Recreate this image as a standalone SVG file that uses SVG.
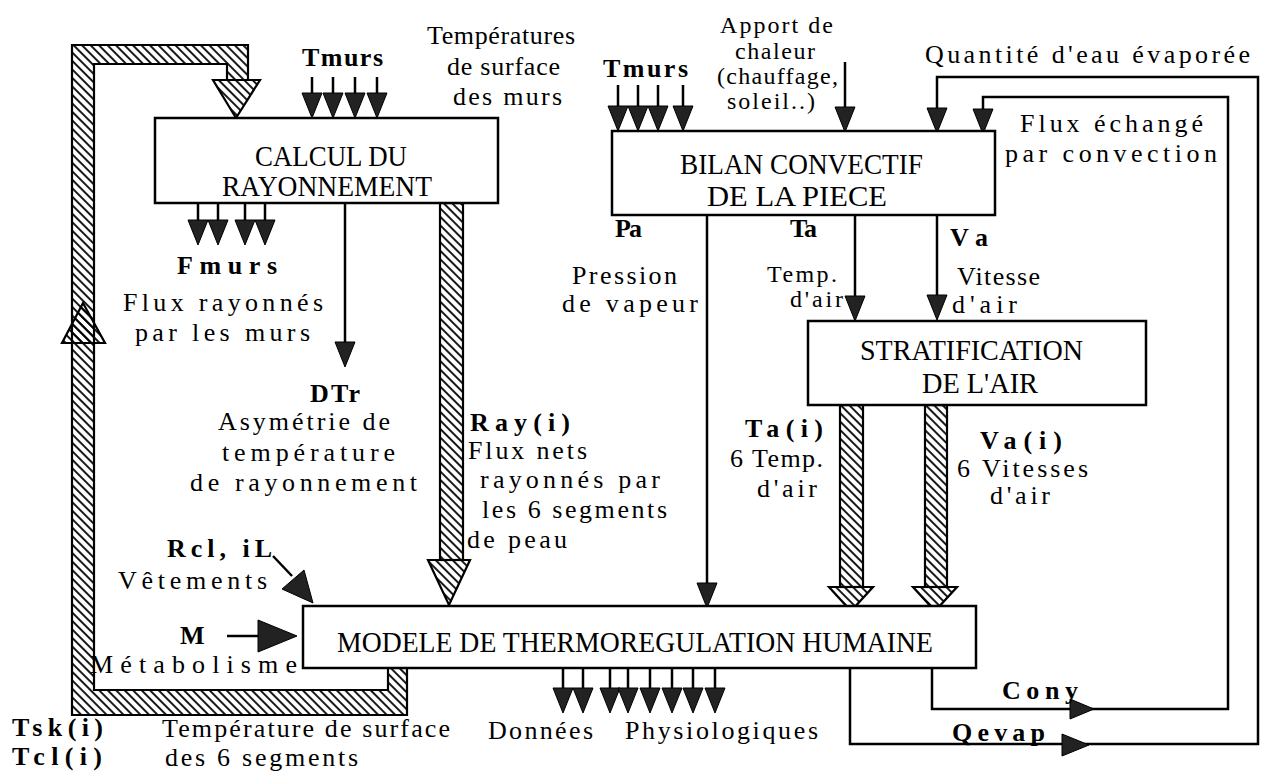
<svg xmlns="http://www.w3.org/2000/svg" width="1266" height="780" viewBox="0 0 1266 780">
<defs>
<pattern id="hatch" width="6" height="6" patternUnits="userSpaceOnUse" patternTransform="rotate(-45)">
<line x1="2" y1="0" x2="2" y2="6" stroke="#000" stroke-width="1.8"/>
</pattern>
<path id="ah" d="M-10,0 L10,0 L0,25 Z"/>
</defs>
<style>
.box{fill:#fff;stroke:#000;stroke-width:2.5}
.ln{fill:none;stroke:#000;stroke-width:2.5}
.hat{fill:url(#hatch);stroke:#000;stroke-width:2.2}
.ah{fill:#222;stroke:#000;stroke-width:1}
text{font-family:"Liberation Serif","Times New Roman",serif;font-size:26px;fill:#000}
.b{font-weight:bold;font-size:26px}
.bx{font-size:29px}
.sm{font-size:24px}
</style>
<rect width="1266" height="780" fill="#fff"/>

<g id="connectors">
  <!-- left hatched feedback loop -->
  <path class="hat" d="M388,666 H407 V715 H72 V45 H248 V80 H227 V64 H94 V690 H388 Z"/>
  <path class="hat" d="M213,80 H260 L236,118 Z"/>
  <path class="hat" d="M62,343 H105 L83,303 Z"/>
  <!-- Ray(i) -->
  <rect class="hat" x="440" y="203" width="23" height="357"/>
  <path class="hat" d="M428,560 H470 L449,605 Z"/>
  <!-- Ta(i) -->
  <rect class="hat" x="840" y="405" width="23" height="182"/>
  <path class="hat" d="M829,587 H873 L851,611 Z"/>
  <!-- Va(i) -->
  <rect class="hat" x="925" y="405" width="22" height="182"/>
  <path class="hat" d="M913,587 H957 L935,611 Z"/>

  <!-- Tmurs left -->
  <path class="ln" d="M312,77 V93 M333,77 V93 M355,77 V93 M377,77 V93"/>
  <use href="#ah" class="ah" x="312" y="93"/>
  <use href="#ah" class="ah" x="333" y="93"/>
  <use href="#ah" class="ah" x="355" y="93"/>
  <use href="#ah" class="ah" x="377" y="93"/>
  <!-- Fmurs -->
  <path class="ln" d="M198,203 V220 M218,203 V220 M245,203 V220 M265,203 V220"/>
  <use href="#ah" class="ah" x="198" y="220"/>
  <use href="#ah" class="ah" x="218" y="220"/>
  <use href="#ah" class="ah" x="245" y="220"/>
  <use href="#ah" class="ah" x="265" y="220"/>
  <!-- DTr -->
  <path class="ln" d="M345,203 V342"/>
  <use href="#ah" class="ah" x="345" y="342"/>
  <!-- Tmurs right -->
  <path class="ln" d="M618,85 V106 M638,85 V106 M658,85 V106 M683,85 V106"/>
  <use href="#ah" class="ah" x="618" y="106"/>
  <use href="#ah" class="ah" x="638" y="106"/>
  <use href="#ah" class="ah" x="658" y="106"/>
  <use href="#ah" class="ah" x="683" y="106"/>
  <!-- Apport de chaleur -->
  <path class="ln" d="M845,62 V107"/>
  <use href="#ah" class="ah" x="845" y="107"/>
  <!-- Qevap loop -->
  <path class="ln" d="M850,668 V744 H1258 V77 H937 V108"/>
  <use href="#ah" class="ah" x="937" y="108"/>
  <path class="ah" d="M1062,734 L1062,756 L1089,745 Z"/>
  <!-- Conv loop -->
  <path class="ln" d="M932,668 V709 H1228 V97 H983 V109"/>
  <use href="#ah" class="ah" x="983" y="109"/>
  <path class="ah" d="M1070,699 L1070,719 L1094,709 Z"/>
  <!-- Pa, Ta, Va -->
  <path class="ln" d="M707,215 V583"/>
  <use href="#ah" class="ah" x="707" y="583"/>
  <path class="ln" d="M855,215 V296"/>
  <use href="#ah" class="ah" x="855" y="296"/>
  <path class="ln" d="M937,216 V295"/>
  <use href="#ah" class="ah" x="937" y="295"/>
  <!-- Données physiologiques -->
  <path class="ln" d="M563,668 V688 M583,668 V688 M610,668 V688 M628,668 V688 M650,668 V688 M672,668 V688 M693,668 V688 M715,668 V688"/>
  <use href="#ah" class="ah" x="563" y="688"/>
  <use href="#ah" class="ah" x="583" y="688"/>
  <use href="#ah" class="ah" x="610" y="688"/>
  <use href="#ah" class="ah" x="628" y="688"/>
  <use href="#ah" class="ah" x="650" y="688"/>
  <use href="#ah" class="ah" x="672" y="688"/>
  <use href="#ah" class="ah" x="693" y="688"/>
  <use href="#ah" class="ah" x="715" y="688"/>
  <!-- Rcl, iL -->
  <path class="ln" d="M273,556 L292,576" stroke-width="4"/>
  <path class="ah" d="M282,589 L304,570 L313,603 Z"/>
  <!-- M -->
  <path class="ln" d="M227,636 H262" stroke-width="4"/>
  <path class="ah" d="M258,620 L258,652 L297,636 Z"/>
</g>

<g id="calcul">
  <rect class="box" x="155" y="118" width="343" height="85"/>
  <text class="bx" x="255" y="166" textLength="152" lengthAdjust="spacingAndGlyphs">CALCUL DU</text>
  <text class="bx" x="222" y="196" textLength="210" lengthAdjust="spacingAndGlyphs">RAYONNEMENT</text>
</g>
<g id="bilan">
  <rect class="box" x="612" y="131" width="383" height="84"/>
  <text class="bx" x="680" y="174" textLength="243" lengthAdjust="spacingAndGlyphs">BILAN CONVECTIF</text>
  <text class="bx" x="707" y="206" textLength="180" lengthAdjust="spacingAndGlyphs">DE LA PIECE</text>
</g>
<g id="stratification">
  <rect class="box" x="808" y="321" width="338" height="84"/>
  <text class="bx" x="860" y="360" textLength="223" lengthAdjust="spacingAndGlyphs">STRATIFICATION</text>
  <text class="bx" x="922" y="393" textLength="116" lengthAdjust="spacingAndGlyphs">DE L'AIR</text>
</g>
<g id="modele">
  <rect class="box" x="303" y="606" width="673" height="62"/>
  <text class="bx" x="337" y="652" textLength="596" lengthAdjust="spacingAndGlyphs">MODELE DE THERMOREGULATION HUMAINE</text>
</g>

<g id="labels">
  <text class="b" x="302" y="66" textLength="81">Tmurs</text>
  <text x="427" y="44" textLength="148">Températures</text>
  <text x="447" y="75" textLength="113">de surface</text>
  <text x="453" y="105" textLength="109">des murs</text>
  <text class="b" x="603" y="77" textLength="85">Tmurs</text>
  <text class="sm" x="720" y="33" textLength="113">Apport de</text>
  <text class="sm" x="735" y="59" textLength="80">chaleur</text>
  <text class="sm" x="717" y="84" textLength="121">(chauffage,</text>
  <text class="sm" x="727" y="109" textLength="88">soleil..)</text>
  <text x="925" y="63" textLength="325">Quantité d'eau évaporée</text>
  <text x="1020" y="132" textLength="183">Flux échangé</text>
  <text x="1005" y="162" textLength="212">par convection</text>

  <text class="b" x="177" y="274" textLength="100">Fmurs</text>
  <text x="123" y="311" textLength="200">Flux rayonnés</text>
  <text x="135" y="341" textLength="175">par les murs</text>
  <text class="b" x="310" y="402" textLength="50">DTr</text>
  <text x="218" y="430" textLength="172">Asymétrie de</text>
  <text x="222" y="461" textLength="173">température</text>
  <text x="190" y="491" textLength="227">de rayonnement</text>

  <text class="b" x="615" y="237" textLength="27">Pa</text>
  <text x="572" y="284" textLength="105">Pression</text>
  <text x="562" y="312" textLength="136">de vapeur</text>
  <text class="b" x="790" y="237" textLength="27">Ta</text>
  <text class="sm" x="767" y="282" textLength="70">Temp.</text>
  <text class="sm" x="790" y="307" textLength="53">d'air</text>
  <text class="b" x="950" y="246" textLength="38">Va</text>
  <text x="957" y="285" textLength="83">Vitesse</text>
  <text x="952" y="313" textLength="65">d'air</text>

  <text class="b" x="470" y="431" textLength="100">Ray(i)</text>
  <text x="468" y="459" textLength="119">Flux nets</text>
  <text x="480" y="488" textLength="180">rayonnés par</text>
  <text x="482" y="518" textLength="185">les 6 segments</text>
  <text x="467" y="548" textLength="100">de peau</text>

  <text class="b" x="745" y="437" textLength="78">Ta(i)</text>
  <text x="730" y="467" textLength="93">6 Temp.</text>
  <text x="757" y="497" textLength="60">d'air</text>
  <text class="b" x="980" y="449" textLength="82">Va(i)</text>
  <text x="957" y="477" textLength="131">6 Vitesses</text>
  <text x="990" y="504" textLength="60">d'air</text>

  <text class="b" x="167" y="557" textLength="105">Rcl, iL</text>
  <text x="118" y="589" textLength="149">Vêtements</text>
  <text class="b" x="180" y="644" textLength="33">M</text>
  <text x="90" y="673" textLength="207">Métabolisme</text>

  <text class="b" x="12" y="736" textLength="91">Tsk(i)</text>
  <text class="b" x="12" y="765" textLength="90">Tcl(i)</text>
  <text x="162" y="737" textLength="288">Température de surface</text>
  <text x="165" y="766" textLength="193">des 6 segments</text>
  <text x="488" y="739" textLength="105">Données</text>
  <text x="625" y="739" textLength="193">Physiologiques</text>
  <text class="b" x="1002" y="699" textLength="76">Cony</text>
  <text class="b" x="952" y="741" textLength="93">Qevap</text>
</g>
</svg>
